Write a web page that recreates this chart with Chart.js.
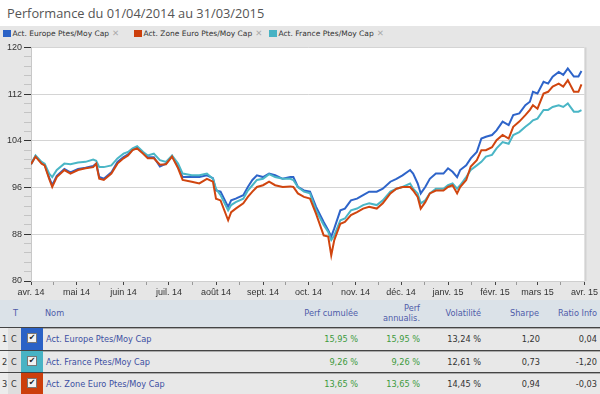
<!DOCTYPE html>
<html lang="fr">
<head>
<meta charset="utf-8">
<script src="https://cdn.jsdelivr.net/npm/chart.js@4"></script>
<style>
body { margin: 0; width: 600px; height: 394px; overflow: hidden; background: #fff; font-family: "DejaVu Sans", Verdana, sans-serif; position: relative; }
#titre { position: absolute; left: 7px; top: 4px; font: 12.8px "Open Sans", sans-serif; color: #555; white-space: nowrap; }
#panneau { position: absolute; left: 0; top: 26px; width: 600px; height: 274px; background: #e6e6e6; }
.item { position: absolute; top: 0; height: 14px; line-height: 14px; font-size: 7.5px; color: #333; white-space: nowrap; }
.carre { display: inline-block; width: 7.5px; height: 7.5px; vertical-align: -1px; margin-right: 2px; }
.croix { color: #aaa; margin-left: 3px; font-size: 8.5px; }
#zone { position: absolute; left: 0; top: 14px; width: 600px; height: 260px; }
#tableau { position: absolute; left: 0; top: 300px; width: 600px; height: 94px; font-size: 8.2px; }
.entete { position: absolute; left: 0; top: 0; width: 600px; height: 27px; background: #dbe2e8; color: #4f5ca8; }
.ligne { position: absolute; left: 0; width: 600px; height: 22px; background: #e8e8e8; border-top: 1px solid #444; box-shadow: inset 0 1px #aaa; }
.c { position: absolute; white-space: nowrap; }
</style>
</head>
<body>
<div id="titre">Performance du 01/04/2014 au 31/03/2015</div>
<div id="panneau">
  <div id="legende"></div>
  <div id="zone"><canvas id="grafico"></canvas></div>
</div>
<div id="tableau"></div>

<script>
// ==========================
// DONNEES
// ==========================
const jours = [0, 3, 7, 9, 12, 14, 17, 22, 26, 31, 36, 41, 43, 45, 48, 53, 57, 61, 64, 67, 70, 74, 77, 81, 85, 89, 93, 97, 100, 106, 111, 116, 120, 122, 125, 130, 132, 135, 140, 143, 146, 149, 153, 157, 161, 166, 171, 173, 176, 180, 184, 188, 193, 196, 198, 200, 204, 207, 211, 215, 219, 223, 228, 232, 237, 241, 245, 250, 252, 255, 257, 260, 263, 267, 272, 275, 278, 281, 283, 287, 290, 294, 297, 300, 304, 307, 311, 315, 318, 322, 326, 329, 331, 334, 338, 341, 344, 348, 351, 354, 358, 361, 363];

const europe = [100, 101.4, 100.2, 99.9, 97.7, 96.4, 98.0, 99.2, 98.6, 99.2, 99.4, 99.7, 100.1, 97.8, 97.5, 98.6, 100.4, 101.2, 101.7, 102.5, 102.9, 101.9, 101.2, 101.2, 99.6, 100.1, 101.4, 99.5, 97.8, 97.8, 97.8, 98.1, 97.6, 95.5, 95.3, 92.7, 93.8, 94.1, 94.7, 96.1, 97.3, 98.1, 97.8, 98.4, 98.1, 97.5, 97.8, 97.8, 96.1, 95.5, 95.3, 92.7, 90.1, 88.7, 87.6, 89.0, 92.1, 92.4, 93.8, 94.1, 94.7, 95.3, 95.3, 95.8, 97.0, 97.5, 98.1, 99.0, 98.4, 96.7, 95.0, 96.1, 97.5, 98.4, 98.4, 99.3, 98.7, 97.8, 99.0, 99.8, 101.0, 102.1, 104.4, 104.7, 105.0, 105.8, 107.3, 106.7, 108.4, 108.7, 110.1, 110.7, 112.4, 112.1, 114.1, 113.8, 115.0, 115.8, 115.3, 116.4, 115.0, 115.0, 115.95];

const zoneEuro = [100, 101.3, 100.1, 99.8, 97.5, 96.1, 97.8, 99.0, 98.4, 99.0, 99.3, 99.5, 100.1, 97.5, 97.3, 98.4, 100.1, 101.0, 101.5, 102.4, 102.7, 101.8, 101.0, 101.0, 99.9, 100.0, 101.3, 99.3, 97.3, 97.0, 96.7, 97.5, 97.0, 94.1, 93.8, 90.4, 91.8, 92.4, 93.3, 94.4, 95.3, 96.1, 96.4, 97.0, 96.4, 96.1, 96.2, 96.1, 95.0, 94.4, 94.1, 91.5, 87.8, 87.6, 84.4, 87.0, 89.8, 90.1, 91.3, 91.8, 92.4, 92.7, 92.4, 93.3, 95.0, 95.8, 96.1, 96.1, 95.5, 94.4, 92.4, 93.5, 95.0, 95.5, 95.5, 96.1, 96.4, 95.0, 96.1, 97.3, 99.6, 100.7, 102.4, 102.4, 102.9, 104.1, 105.0, 104.4, 106.4, 107.3, 108.4, 109.3, 110.1, 109.5, 112.1, 112.4, 113.3, 113.8, 113.3, 114.4, 112.4, 112.4, 113.65];

const france = [100, 101.5, 100.4, 100.1, 98.4, 97.8, 99.0, 100.1, 100.0, 100.3, 100.4, 100.8, 100.6, 99.5, 99.5, 99.8, 101.0, 101.8, 102.1, 102.7, 103.1, 102.1, 101.5, 101.8, 100.7, 100.4, 101.5, 100.1, 98.4, 98.1, 98.1, 98.4, 97.5, 95.8, 94.7, 92.1, 93.0, 93.5, 94.1, 95.5, 96.4, 97.3, 97.5, 98.3, 97.8, 97.5, 97.5, 97.3, 96.1, 95.3, 95.0, 92.1, 89.6, 88.4, 87.0, 87.8, 90.4, 90.7, 92.1, 92.4, 93.0, 93.3, 93.0, 93.8, 95.3, 95.8, 96.1, 96.7, 95.8, 95.0, 93.3, 93.8, 95.0, 95.8, 95.8, 96.4, 96.7, 95.8, 96.4, 97.8, 99.0, 99.8, 100.4, 101.3, 101.6, 102.7, 103.8, 103.5, 105.0, 105.5, 106.4, 107.0, 107.5, 107.8, 109.3, 109.3, 109.8, 110.1, 109.8, 110.4, 109.0, 109.0, 109.26];

const moisJours = [0, 30, 61, 91, 122, 153, 183, 214, 244, 275, 306, 334, 365];
const moisLabels = ["avr. 14", "mai 14", "juin 14", "juil. 14", "août 14", "sept. 14", "oct. 14", "nov. 14", "déc. 14", "janv. 15", "févr. 15", "mars 15", "avr. 15"];

const yMin = 80;
const yMax = 120;
const yPas = 8;
const ySousPas = 1.6;

// legende
const legendeNoms = ["Act. Europe Ptes/Moy Cap", "Act. Zone Euro Ptes/Moy Cap", "Act. France Ptes/Moy Cap"];
const legendeCouleurs = ["#2b62c6", "#cc3f0c", "#48b3c4"];
const legendeX = [3, 134, 269];

// tableau
const tabNoms = ["Act. Europe Ptes/Moy Cap", "Act. France Ptes/Moy Cap", "Act. Zone Euro Ptes/Moy Cap"];
const tabCouleurs = ["#2b62c6", "#48b3c4", "#cc3f0c"];
const perfCumulee = [15.95, 9.26, 13.65];
const perfAnnualisee = [15.95, 9.26, 13.65];
const volatilite = [13.24, 12.61, 14.45];
const sharpe = [1.20, 0.73, 0.94];
const ratioInfo = [0.04, -1.20, -0.03];

function fr(v) {
    return v.toFixed(2).replace(".", ",");
}

// ==========================
// LEGENDE
// ==========================
const legende = document.getElementById("legende");
legendeNoms.forEach((nom, i) => {
    const item = document.createElement("div");
    item.className = "item";
    item.style.left = legendeX[i] + "px";
    item.innerHTML = `<span class="carre" style="background:${legendeCouleurs[i]}"></span>${nom}<span class="croix">✕</span>`;
    legende.appendChild(item);
});

// ==========================
// TABLEAU
// ==========================
const tableau = document.getElementById("tableau");
tableau.innerHTML = `
    <div class="entete">
        <span class="c" style="left:13px;top:8px">T</span>
        <span class="c" style="left:45px;top:8px">Nom</span>
        <span class="c" style="right:242px;top:8px">Perf cumulée</span>
        <span class="c" style="right:180px;top:3px;text-align:right;line-height:10px">Perf<br>annualis.</span>
        <span class="c" style="right:119px;top:8px">Volatilité</span>
        <span class="c" style="right:61px;top:8px">Sharpe</span>
        <span class="c" style="right:3px;top:8px">Ratio Info</span>
    </div>`;

tabNoms.forEach((nom, i) => {
    const ligne = document.createElement("div");
    ligne.className = "ligne";
    ligne.style.top = (27 + i * 22.5) + "px";
    ligne.innerHTML = `
        <span class="c" style="left:0;top:0;width:8px;height:22px;background:#ececec"></span>
        <span class="c" style="left:8px;top:0;width:13px;height:22px;background:#dedede"></span>
        <span class="c" style="left:21px;top:0;width:22px;height:22px;background:${tabCouleurs[i]}"></span>
        <span class="c" style="left:2px;top:6px;color:#333">${i + 1}</span>
        <span class="c" style="left:11px;top:6px;color:#333">C</span>
        <span class="c" style="left:27px;top:5px;width:8px;height:8px;background:#f2f2f2;border:1px solid #777;font-size:8px;line-height:8px;text-align:center;color:#222">✔</span>
        <span class="c" style="left:46px;top:6px;color:#3c4fa2">${nom}</span>
        <span class="c" style="right:242px;top:6px;color:#3d9a3d">${fr(perfCumulee[i])} %</span>
        <span class="c" style="right:180px;top:6px;color:#3d9a3d">${fr(perfAnnualisee[i])} %</span>
        <span class="c" style="right:119px;top:6px;color:#333">${fr(volatilite[i])} %</span>
        <span class="c" style="right:60px;top:6px;color:#333">${fr(sharpe[i])}</span>
        <span class="c" style="right:3px;top:6px;color:#333">${fr(ratioInfo[i])}</span>`;
    tableau.appendChild(ligne);
});

// ==========================
// GRAPHIQUE
// ==========================
function points(valeurs) {
    return valeurs.map((v, i) => ({ x: jours[i], y: v }));
}

function estMajeur(v) {
    return Math.abs(v / yPas - Math.round(v / yPas)) < 1e-6;
}

const ticksX = [];
moisJours.forEach((j, i) => {
    ticksX.push(j);
    if (i < moisJours.length - 1) ticksX.push((j + moisJours[i + 1]) / 2);
});

const ticksY = [];
for (let k = 0; k <= Math.round((yMax - yMin) / ySousPas); k++) {
    ticksY.push(yMin + k * ySousPas);
}

const fondBlanc = {
    id: "fondBlanc",
    beforeDraw(chart) {
        const { ctx, chartArea: a } = chart;
        ctx.save();
        ctx.fillStyle = "#fff";
        ctx.fillRect(a.left, a.top, a.right - a.left, a.bottom - a.top);
        ctx.restore();
    },
    afterDraw(chart) {
        const { ctx, chartArea: a } = chart;
        ctx.save();
        ctx.strokeStyle = "#d2d2d2";
        ctx.lineWidth = 2;
        ctx.beginPath();
        ctx.moveTo(a.right + 1, a.top);
        ctx.lineTo(a.right + 1, a.bottom);
        ctx.stroke();
        ctx.restore();
    }
};

const ctx = document.getElementById("grafico");

new Chart(ctx, {
    type: "line",
    data: {
        datasets: [
            { label: legendeNoms[1], data: points(zoneEuro), borderColor: "#d0450f", order: 1 },
            { label: legendeNoms[2], data: points(france), borderColor: "#4ab6c6", order: 2 },
            { label: legendeNoms[0], data: points(europe), borderColor: "#2e64c9", order: 3 }
        ]
    },
    options: {
        responsive: true,
        maintainAspectRatio: false,
        animation: false,
        layout: { padding: { top: 7, right: 14, left: 0, bottom: 0 } },
        elements: {
            line: { borderWidth: 2, tension: 0 },
            point: { radius: 0 }
        },
        plugins: {
            legend: { display: false },
            tooltip: { enabled: false }
        },
        scales: {
            x: {
                type: "linear",
                min: 0,
                max: 365,
                afterBuildTicks: scale => { scale.ticks = ticksX.map(v => ({ value: v })); },
                afterFit: scale => { scale.height = 19; },
                grid: {
                    drawOnChartArea: false,
                    tickLength: 4,
                    tickColor: c => moisJours.includes(c.tick.value) ? "#444" : "#999"
                },
                border: { color: "#cfcfcf" },
                ticks: {
                    autoSkip: false,
                    maxRotation: 0,
                    padding: 2,
                    color: "#333",
                    font: { family: "Liberation Sans", size: 9 },
                    callback: v => {
                        const i = moisJours.indexOf(v);
                        return i >= 0 ? moisLabels[i] : "";
                    }
                }
            },
            y: {
                min: yMin,
                max: yMax,
                afterBuildTicks: scale => { scale.ticks = ticksY.map(v => ({ value: v })); },
                afterFit: scale => { scale.width = 31; },
                grid: {
                    color: c => estMajeur(c.tick.value) ? "#d4d4d4" : "rgba(0,0,0,0)",
                    tickColor: c => estMajeur(c.tick.value) ? "#333" : "#c4c4c4",
                    tickLength: 7
                },
                border: { color: "#c8c8c8" },
                ticks: {
                    autoSkip: false,
                    padding: 2,
                    color: "#333",
                    font: { family: "Liberation Sans", size: 9 },
                    callback: v => estMajeur(v) ? String(Math.round(v)) : ""
                }
            }
        }
    },
    plugins: [fondBlanc]
});
</script>
</body>
</html>
